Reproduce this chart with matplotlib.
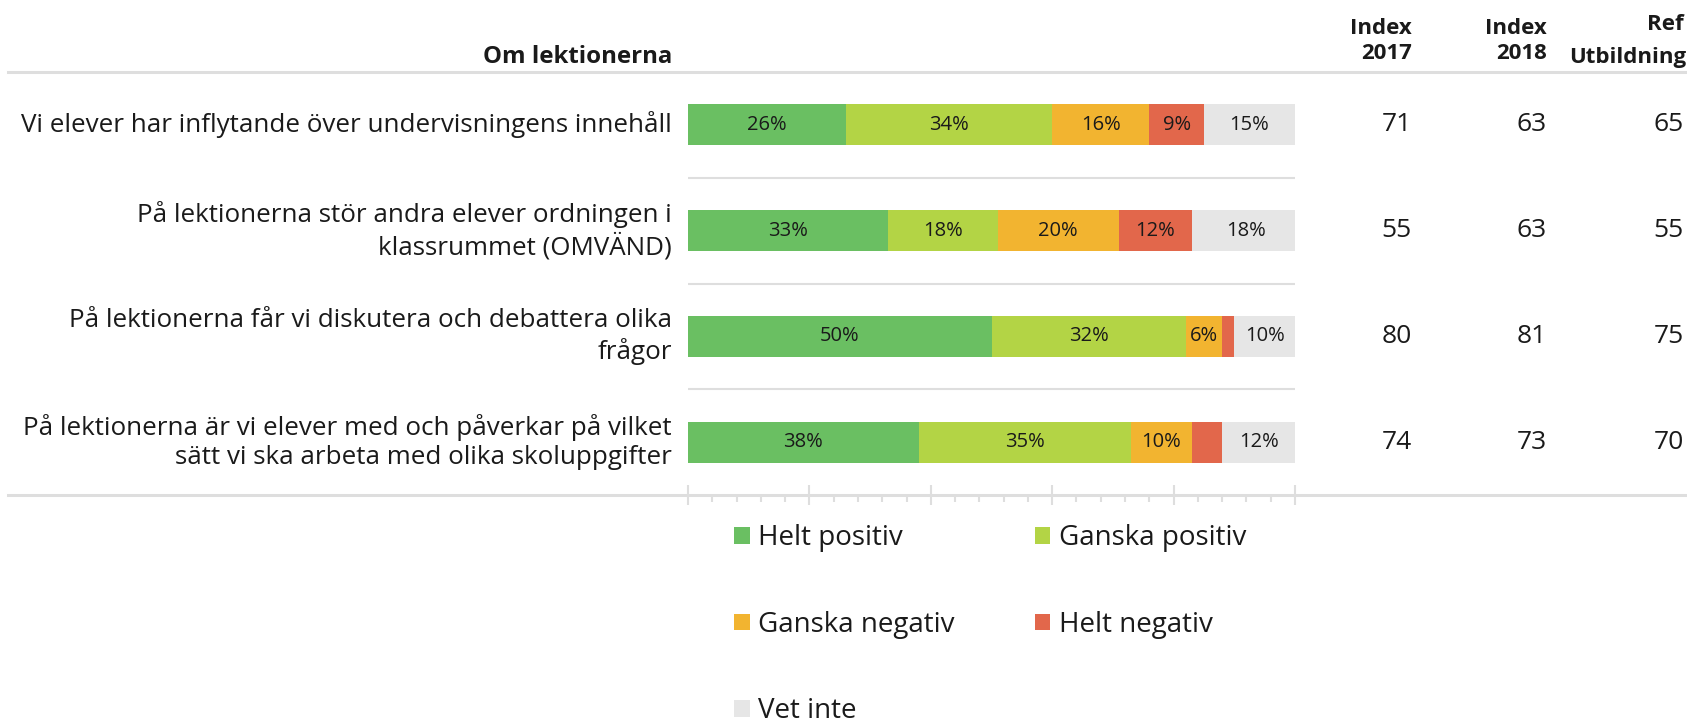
import matplotlib.pyplot as plt
from matplotlib.lines import Line2D
import numpy as np

plt.rcParams['font.family'] = ['Open Sans', 'DejaVu Sans']

questions = [
    "Vi elever har inflytande över undervisningens innehåll",
    "På lektionerna stör andra elever ordningen i\nklassrummet (OMVÄND)",
    "På lektionerna får vi diskutera och debattera olika\nfrågor",
    "På lektionerna är vi elever med och påverkar på vilket\nsätt vi ska arbeta med olika skoluppgifter",
]
answers = ["Helt positiv", "Ganska positiv", "Ganska negativ", "Helt negativ", "Vet inte"]
helt_positiv = [26, 33, 50, 38]
ganska_positiv = [34, 18, 32, 35]
ganska_negativ = [16, 20, 6, 10]
helt_negativ = [9, 12, 2, 5]
vet_inte = [15, 18, 10, 12]
index_2017 = [71, 55, 80, 74]
index_2018 = [63, 63, 81, 73]
ref_utb = [65, 55, 75, 70]

colors = ["#6abf62", "#b3d445", "#f2b430", "#e2674b", "#e6e6e6"]
text_col = "#1a1a1a"
line_col = "#dedede"

W, H = 1687, 726
fig = plt.figure(figsize=(W / 100, H / 100), dpi=100)
ax = fig.add_axes([688 / W, 1 - 495 / H, (1295 - 688) / W, (495 - 72) / H])

series = [helt_positiv, ganska_positiv, ganska_negativ, helt_negativ, vet_inte]
y = np.arange(len(questions))
left = np.zeros(len(questions))
bars = []
for name, vals, c in zip(answers, series, colors):
    vals = np.array(vals, dtype=float)
    b = ax.barh(y, vals, left=left, height=0.39, color=c, label=name)
    bars.append(b)
    for yi, v, l in zip(y, vals, left):
        if v >= 6:
            ax.text(l + v / 2, yi, f"{int(v)}%", ha='center', va='center',
                    fontsize=14.5, color=text_col)
    left += vals

ax.set_xlim(0, 100)
ax.set_ylim(3.5, -0.5)
for sp in ['top', 'right', 'left', 'bottom']:
    ax.spines[sp].set_visible(False)
ax.set_yticks([])
ax.set_xticks(np.arange(0, 101, 20))
ax.set_xticks(np.arange(0, 101, 4), minor=True)
ax.set_xticklabels([])
ax.tick_params(axis='x', which='major', direction='inout', length=14, width=1.5, color=line_col)
ax.tick_params(axis='x', which='minor', direction='out', length=5, width=1.5, color=line_col)
for g in [0.5, 1.5, 2.5]:
    ax.axhline(g, color=line_col, lw=1.5, zorder=0)

# full-width rules at top and bottom
for yy in [72, 495]:
    fig.add_artist(Line2D([8 / W, 1], [1 - yy / H, 1 - yy / H], color=line_col, lw=2.2))

# question labels
for yi, q in zip(y, questions):
    ax.text(-16 / 607 * 100, yi, q, ha='right', va='center', fontsize=18.7,
            color=text_col, linespacing=1.25)

# header and index columns
hdr = dict(fontsize=16, fontweight='bold', color=text_col)
fig.text(672 / W, 1 - 57 / H, "Om lektionerna", ha='right', va='center',
         fontsize=17.3, fontweight='bold', color=text_col)
fig.text(1412 / W, 1 - 41 / H, "Index\n2017", ha='right', va='center', linespacing=1.3, **hdr)
fig.text(1547 / W, 1 - 41 / H, "Index\n2018", ha='right', va='center', linespacing=1.3, **hdr)
fig.text(1684 / W, 1 - 25 / H, "Ref", ha='right', va='center', **hdr)
fig.text(1569 / W, 1 - 57 / H, "Utbildning", ha='left', va='center', **hdr)

for yi, a, b, c in zip(y, index_2017, index_2018, ref_utb):
    yf = ax.transData.transform((0, yi))[1] / H
    fig.text(1412 / W, yf, str(a), ha='right', va='center', fontsize=19, color=text_col)
    fig.text(1547 / W, yf, str(b), ha='right', va='center', fontsize=19, color=text_col)
    fig.text(1684 / W, yf, str(c), ha='right', va='center', fontsize=19, color=text_col)

# legend, filled row-wise
order = [0, 2, 4, 1, 3]
fig.legend([bars[i] for i in order], [answers[i] for i in order],
           loc='upper left', bbox_to_anchor=(715 / W, 1 - 505 / H), ncol=2,
           frameon=False, fontsize=20, handlelength=0.55, handleheight=0.55,
           handletextpad=0.3, labelspacing=2.1, columnspacing=2.9,
           labelcolor=text_col, borderaxespad=0.3)

fig.savefig("out.png", dpi=100)
